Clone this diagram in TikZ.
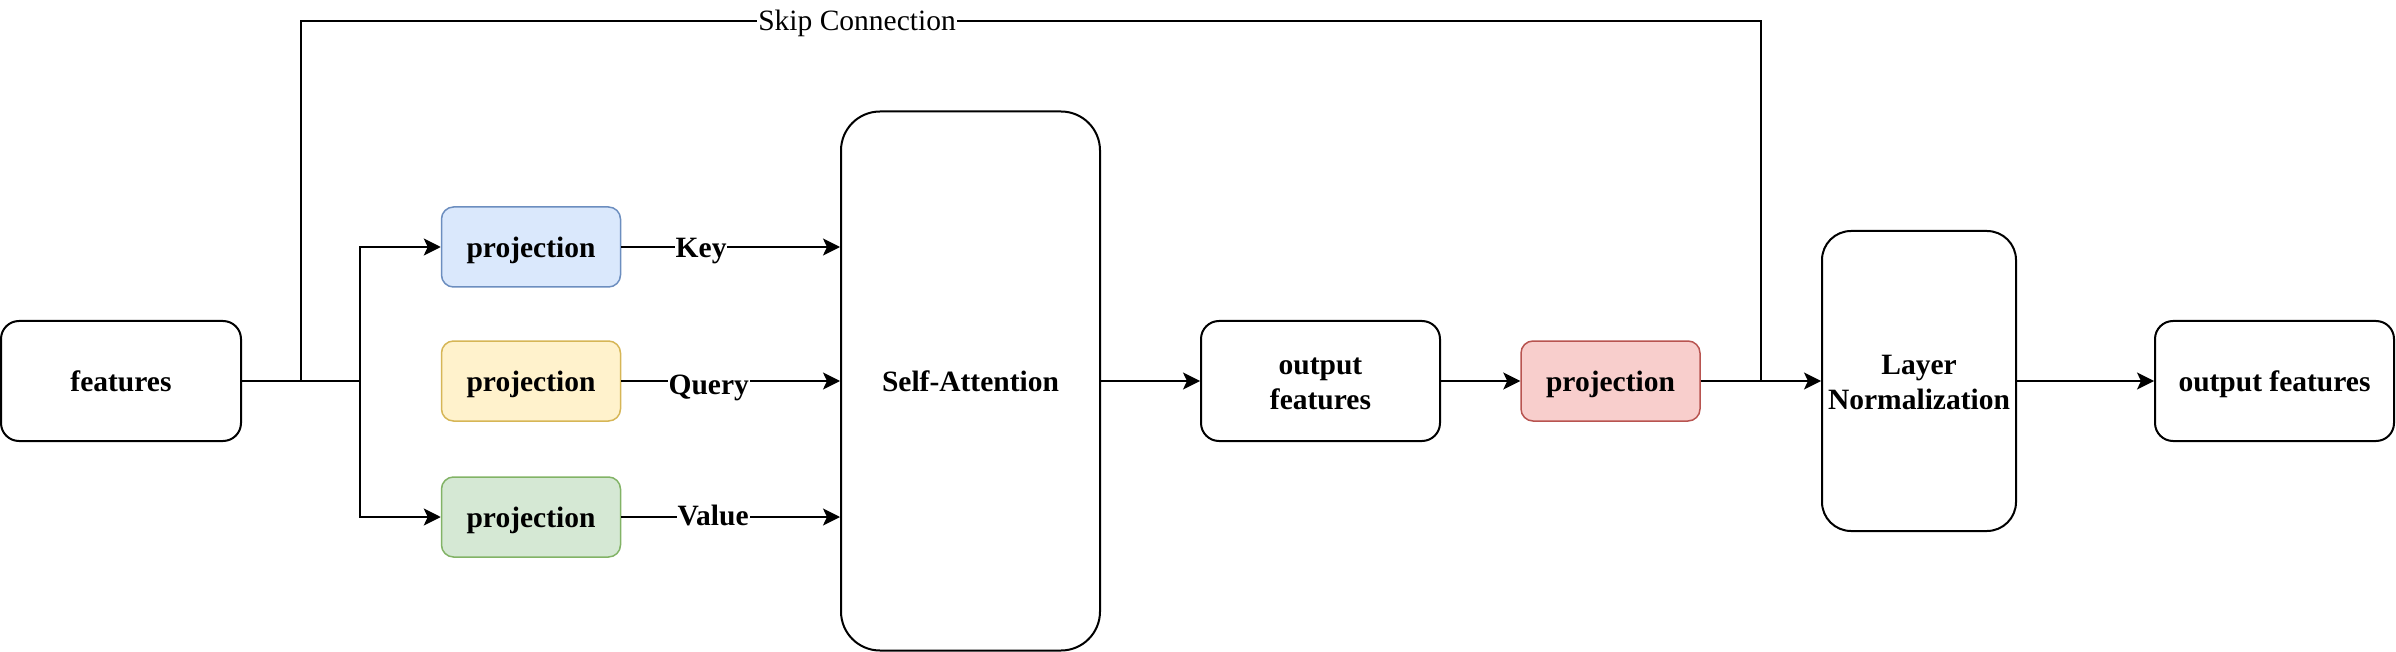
\documentclass[tikz,border=0pt]{standalone}
\usepackage{fontspec}
\setmainfont{Liberation Serif}
\usetikzlibrary{arrows.meta}
\definecolor{bfill}{HTML}{DAE8FC}\definecolor{bdraw}{HTML}{6C8EBF}
\definecolor{yfill}{HTML}{FFF2CC}\definecolor{ydraw}{HTML}{D6B656}
\definecolor{gfill}{HTML}{D5E8D4}\definecolor{gdraw}{HTML}{82B366}
\definecolor{rfill}{HTML}{F8CECC}\definecolor{rdraw}{HTML}{B85450}
\newcommand{\lowtxt}[2][3.5pt]{\raisebox{-#1}[\height][\depth]{\begin{tabular}{@{}c@{}}#2\end{tabular}}}
\begin{document}
\begin{tikzpicture}[x=1pt,y=-1pt,
  txt/.style={font=\fontsize{29.5}{35.4}\selectfont\bfseries},
  blk/.style={txt, draw=black, line width=2pt, rectangle, inner sep=0pt, fill=white},
  proj/.style={txt, rectangle, inner sep=0pt, line width=1.5pt, minimum width=179pt, minimum height=80pt, rounded corners=12pt},
  conn/.style={line width=2pt, draw=black},
  arr/.style={conn, -{Stealth[length=17pt, width=17pt, inset=4pt]}},
  lbl/.style={txt, fill=white, inner xsep=1pt, inner ysep=0pt},
  skiplbl/.style={font=\fontsize{29.5}{35.4}\selectfont, fill=white, inner xsep=1pt, inner ysep=0pt}
]
\useasboundingbox (0,0) rectangle (2396,652);
% nodes
\node[blk, minimum width=240pt, minimum height=120pt, rounded corners=18pt] (feat) at (121,381) {\lowtxt{features}};
\node[proj, fill=bfill, draw=bdraw] (pk) at (531,247) {\lowtxt{projection}};
\node[proj, fill=yfill, draw=ydraw] (pq) at (531,381) {\lowtxt{projection}};
\node[proj, fill=gfill, draw=gdraw] (pv) at (531,517) {\lowtxt{projection}};
\node[blk, minimum width=259pt, minimum height=539pt, rounded corners=39pt] (sa) at (970.5,381) {\lowtxt{Self-Attention}};
\node[blk, minimum width=239pt, minimum height=120pt, rounded corners=18pt] (of) at (1320.5,381) {\lowtxt[4pt]{output\\features}};
\node[proj, fill=rfill, draw=rdraw] (pr) at (1610.5,381) {\lowtxt{projection}};
\node[blk, minimum width=194pt, minimum height=300pt, rounded corners=29pt] (ln) at (1919,381) {\lowtxt[4pt]{Layer\\Normalization}};
\node[blk, minimum width=239pt, minimum height=120pt, rounded corners=18pt] (fo) at (2274.5,381) {\lowtxt{output features}};
% coordinates
\coordinate (split) at (360,381);
\coordinate (skipst) at (300.7,381);
\coordinate (skipA) at (300.7,21);
\coordinate (skipB) at (1761,21);
\coordinate (skipC) at (1761,381);
% connectors
\draw[conn] (feat.east) -- (split);
\draw[arr] (split) |- (pk.west);
\draw[arr] (split) |- (pv.west);
\draw[conn] (skipst) -- (skipA) -- node[skiplbl, pos=0.381] {\lowtxt[2pt]{Skip Connection}} (skipB) -- (skipC);
\draw[arr] (pk.east) -- node[lbl, pos=0.365] {\lowtxt[3pt]{Key}} (sa.west |- pk.east);
\draw[arr] (pq.east) -- node[lbl, pos=0.40] {\lowtxt[6pt]{Query}} (sa.west |- pq.east);
\draw[arr] (pv.east) -- node[lbl, pos=0.42] {\lowtxt[1pt]{Value}} (sa.west |- pv.east);
\draw[arr] (sa.east) -- (of.west);
\draw[arr] (of.east) -- (pr.west);
\draw[arr] (pr.east) -- (ln.west);
\draw[arr] (ln.east) -- (fo.west);
\end{tikzpicture}
\end{document}
